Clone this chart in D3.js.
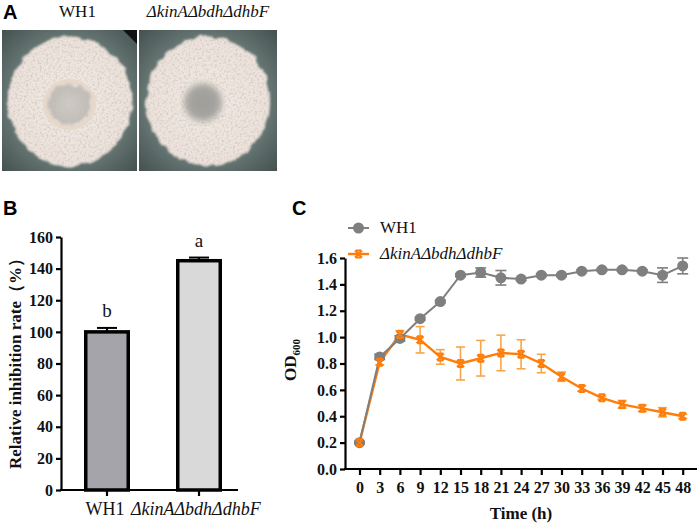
<!DOCTYPE html>
<html>
<head>
<meta charset="utf-8">
<script src="https://cdn.jsdelivr.net/npm/d3@7"></script>
<style>
  html, body { margin: 0; padding: 0; background: #fff; }
  svg { display: block; }
  svg text { font-family: "Liberation Serif", "DejaVu Serif", serif; fill: #111; }
  svg text.tick-lab { font-weight: bold; font-size: 16px; }
  svg text.ax-title { font-weight: bold; font-size: 17px; }
  svg text.panel { font-family: "Liberation Sans", Arial, sans-serif; font-weight: bold; font-size: 20px; fill: #000; }
</style>
</head>
<body>
<svg id="fig" width="699" height="525"></svg>
<script>
// ---- data ----
// panel B
const strains     = ["WH1", "ΔkinAΔbdhΔdhbF"];
const inhibition  = [100, 145];
const inhibErr    = [2.5, 2];
const sigLetters  = ["b", "a"];
const yTicksB     = [0, 20, 40, 60, 80, 100, 120, 140, 160];

// panel C (OD600 growth)
const hours   = [0, 3, 6, 9, 12, 15, 18, 21, 24, 27, 30, 33, 36, 39, 42, 45, 48];
const wh1OD   = [0.20, 0.85, 0.99, 1.14, 1.27, 1.47, 1.49, 1.45, 1.44, 1.47, 1.47, 1.50, 1.51, 1.51, 1.50, 1.47, 1.54];
const wh1Err  = [0.01, 0.02, 0.02, 0.01, 0.01, 0.01, 0.035, 0.055, 0.01, 0.01, 0.01, 0.01, 0.01, 0.01, 0.01, 0.055, 0.06];
const mutOD   = [0.20, 0.81, 1.02, 0.98, 0.85, 0.80, 0.84, 0.88, 0.87, 0.80, 0.70, 0.61, 0.54, 0.49, 0.46, 0.43, 0.40];
const mutErr  = [0.01, 0.02, 0.03, 0.10, 0.055, 0.125, 0.135, 0.135, 0.11, 0.07, 0.035, 0.02, 0.01, 0.03, 0.025, 0.035, 0.015];
const yTicksC = [0, 0.2, 0.4, 0.6, 0.8, 1.0, 1.2, 1.4, 1.6];

const GREY = "#7f7f7f", ORANGE = "#ff7d0a", ORANGE_ERR = "#f9a448";
const SERIF = "'Liberation Serif', 'DejaVu Serif', serif";

const svg = d3.select("#fig");
const defs = svg.append("defs");

// ---------- panel A : colony photos (drawn) ----------
svg.append("text").attr("class", "panel").attr("x", 3).attr("y", 19).text("A");

// filters: rough edge + speckled texture
const f = defs.append("filter").attr("id", "colony")
  .attr("x", "-20%").attr("y", "-20%").attr("width", "140%").attr("height", "140%");
f.append("feTurbulence").attr("type", "fractalNoise").attr("baseFrequency", 0.1)
  .attr("numOctaves", 2).attr("seed", 4).attr("result", "warp");
f.append("feDisplacementMap").attr("in", "SourceGraphic").attr("in2", "warp")
  .attr("scale", 7).attr("xChannelSelector", "R").attr("yChannelSelector", "G").attr("result", "shape");
f.append("feGaussianBlur").attr("in", "shape").attr("stdDeviation", 0.8).attr("result", "shapeB");
f.append("feTurbulence").attr("type", "fractalNoise").attr("baseFrequency", 0.45)
  .attr("numOctaves", 2).attr("seed", 9).attr("result", "grain");
f.append("feColorMatrix").attr("in", "grain").attr("type", "matrix")
  .attr("values", "0 0 0 0 0.60  0 0 0 0 0.55  0 0 0 0 0.52  2.2 0 0 0 -1.0").attr("result", "dots");
f.append("feComposite").attr("in", "dots").attr("in2", "shapeB").attr("operator", "in").attr("result", "dots2");
f.append("feGaussianBlur").attr("in", "dots2").attr("stdDeviation", 0.4).attr("result", "dots3");
const fm = f.append("feMerge");
fm.append("feMergeNode").attr("in", "shapeB");
fm.append("feMergeNode").attr("in", "dots3");

const blur = defs.append("filter").attr("id", "soft");
blur.append("feGaussianBlur").attr("stdDeviation", 3);

function radial(id, stops, cx, cy, r) {
  const g = defs.append("radialGradient").attr("id", id)
    .attr("cx", cx || "50%").attr("cy", cy || "50%").attr("r", r || "70%");
  stops.forEach(s => g.append("stop").attr("offset", s[0]).attr("stop-color", s[1]));
}
radial("plate", [["0%", "#879693"], ["60%", "#6a7a77"], ["100%", "#445250"]]);
radial("cream", [["0%", "#f1e9e3"], ["80%", "#ece1da"], ["100%", "#ddd0c8"]]);
radial("innerW", [["0%", "#cfcbc6"], ["100%", "#b9b4ae"]]);
radial("innerM", [["0%", "#9c9c98"], ["70%", "#a9a7a2"], ["100%", "#d8d2cc"]]);

const photos = [
  { name: "WH1", x: 2, w: 135, italic: false },
  { name: "ΔkinAΔbdhΔdhbF", x: 139, w: 138, italic: true }
];
photos.forEach((p, i) => {
  const y0 = 30, h = 141;
  defs.append("clipPath").attr("id", "clip" + i)
    .append("rect").attr("x", p.x).attr("y", y0).attr("width", p.w).attr("height", h);
  const g = svg.append("g").attr("clip-path", `url(#clip${i})`);
  g.append("rect").attr("x", p.x).attr("y", y0).attr("width", p.w).attr("height", h).attr("fill", "url(#plate)");
  if (i === 0) {
    g.append("path").attr("d", `M${p.x + p.w - 14},${y0} L${p.x + p.w},${y0} L${p.x + p.w},${y0 + 14} Z`).attr("fill", "#111");
  }
  const cx = p.x + p.w / 2, cy = y0 + h / 2 + 1;
  g.append("ellipse").attr("cx", cx).attr("cy", cy).attr("rx", 62).attr("ry", 65)
    .attr("fill", "url(#cream)").attr("filter", "url(#colony)");
  if (i === 0) {
    g.append("ellipse").attr("cx", cx).attr("cy", cy + 3).attr("rx", 24).attr("ry", 23)
      .attr("fill", "none").attr("stroke", "#e6d8ca").attr("stroke-width", 5);
    g.append("ellipse").attr("cx", cx).attr("cy", cy + 3).attr("rx", 21).attr("ry", 20)
      .attr("fill", "url(#innerW)").attr("filter", "url(#colony)");
  } else {
    g.append("circle").attr("cx", cx - 5).attr("cy", cy + 1).attr("r", 19)
      .attr("fill", "url(#innerM)").attr("filter", "url(#soft)");
  }
  svg.append("text").attr("font-family", SERIF)
    .attr("x", p.x + p.w / 2 + (i === 0 ? 8 : 0)).attr("y", 17)
    .attr("text-anchor", "middle").attr("font-size", 17)
    .attr("font-style", p.italic ? "italic" : "normal")
    .text(p.name);
});

// ---------- panel B : bar chart ----------
svg.append("text").attr("class", "panel").attr("x", 3).attr("y", 215).text("B");

const xB = d3.scaleBand().domain(strains).range([61, 245]).paddingInner(0.5).paddingOuter(0.25);
const yB = d3.scaleLinear().domain([0, 160]).range([490, 237]);
const barFill = ["#a4a4aa", "#d9d9d9"];
const gB = svg.append("g");

// bars
gB.selectAll("rect.bar").data(strains).join("rect").attr("class", "bar")
  .attr("x", d => xB(d) + 1.75).attr("width", xB.bandwidth() - 3.5)
  .attr("y", (d, i) => yB(inhibition[i]))
  .attr("height", (d, i) => yB(0) - yB(inhibition[i]))
  .attr("fill", (d, i) => barFill[i]).attr("stroke", "#000").attr("stroke-width", 3.5);

// error bars + letters
strains.forEach((s, i) => {
  const cx = xB(s) + xB.bandwidth() / 2;
  gB.append("line").attr("x1", cx).attr("x2", cx)
    .attr("y1", yB(inhibition[i])).attr("y2", yB(inhibition[i] + inhibErr[i]))
    .attr("stroke", "#000").attr("stroke-width", 2);
  gB.append("line").attr("x1", cx - 10).attr("x2", cx + 10)
    .attr("y1", yB(inhibition[i] + inhibErr[i])).attr("y2", yB(inhibition[i] + inhibErr[i]))
    .attr("stroke", "#000").attr("stroke-width", 2);
  gB.append("text").attr("font-size", 19)
    .attr("x", cx).attr("y", yB(inhibition[i] + inhibErr[i]) - 11)
    .attr("text-anchor", "middle").text(sigLetters[i]);
});

function styleTicks(g) {
  g.attr("font-family", SERIF).attr("font-size", 16).attr("font-weight", "bold");
  g.select(".domain").attr("stroke-width", 2.2);
  g.selectAll(".tick line").attr("stroke-width", 2.2);
  g.selectAll(".tick text").attr("class", "tick-lab").attr("fill", "#111");
}

// y axis
const axB = d3.axisLeft(yB).tickValues(yTicksB).tickSize(5).tickSizeOuter(0).tickPadding(3);
svg.append("g").attr("transform", "translate(61,0)").call(axB).call(styleTicks);
// x axis
svg.append("line").attr("x1", 60).attr("x2", 238).attr("y1", yB(0)).attr("y2", yB(0))
  .attr("stroke", "#000").attr("stroke-width", 2.2);
strains.forEach((s, i) => {
  const cx = xB(s) + xB.bandwidth() / 2;
  svg.append("line").attr("x1", cx).attr("x2", cx).attr("y1", yB(0)).attr("y2", yB(0) + 6)
    .attr("stroke", "#000").attr("stroke-width", 2.2);
  svg.append("text").attr("font-size", 18)
    .attr("font-style", i === 0 ? "normal" : "italic")
    .attr("x", i === 0 ? cx - 2 : cx - 68).attr("y", 515)
    .attr("text-anchor", i === 0 ? "middle" : "start")
    .text(s);
});
svg.append("text").attr("class", "ax-title")
  .attr("transform", `translate(21,${(yB(0) + yB(160)) / 2 - 4}) rotate(-90)`)
  .attr("text-anchor", "middle").text("Relative inhibition rate（%）");

// ---------- panel C : growth curves ----------
svg.append("text").attr("class", "panel").attr("x", 292).attr("y", 215).text("C");

const xC = d3.scaleLinear().domain([0, 48]).range([359.5, 682.7]);
const yC = d3.scaleLinear().domain([0, 1.6]).range([469, 258]);

const axCy = d3.axisLeft(yC).tickValues(yTicksC).tickFormat(d3.format(".1f"))
  .tickSize(5).tickSizeOuter(0).tickPadding(3);
svg.append("g").attr("transform", "translate(345,0)").call(axCy).call(styleTicks);
svg.append("line").attr("x1", 344).attr("x2", 697).attr("y1", 469).attr("y2", 469)
  .attr("stroke", "#000").attr("stroke-width", 2.2);
const axCx = d3.axisBottom(xC).tickValues(hours).tickSize(6).tickSizeOuter(0).tickPadding(7);
svg.append("g").attr("transform", "translate(0,469)").call(axCx).call(styleTicks)
  .call(g => g.select(".domain").remove());

svg.append("text").attr("class", "ax-title").attr("x", 521).attr("y", 519)
  .attr("text-anchor", "middle").text("Time (h)");
svg.append("text").attr("class", "ax-title")
  .attr("transform", "translate(296,360) rotate(-90)").attr("text-anchor", "middle")
  .call(t => {
    t.append("tspan").text("OD");
    t.append("tspan").attr("font-size", 11).attr("dy", 4).text("600");
  });

const line = d3.line().x(d => xC(d[0])).y(d => yC(d[1]));
const wh1Pts = hours.map((h, i) => [h, wh1OD[i], wh1Err[i]]);
const mutPts = hours.map((h, i) => [h, mutOD[i], mutErr[i]]);

function errBars(pts, color, cap, w) {
  const g = svg.append("g").attr("stroke", color).attr("stroke-width", w);
  pts.forEach(p => {
    const x = xC(p[0]);
    g.append("line").attr("x1", x).attr("x2", x).attr("y1", yC(p[1] - p[2])).attr("y2", yC(p[1] + p[2]));
    [p[1] - p[2], p[1] + p[2]].forEach(v =>
      g.append("line").attr("x1", x - cap).attr("x2", x + cap).attr("y1", yC(v)).attr("y2", yC(v)));
  });
}

errBars(mutPts, ORANGE_ERR, 4.5, 1.6);
svg.append("path").datum(mutPts).attr("d", line).attr("fill", "none")
  .attr("stroke", ORANGE).attr("stroke-width", 2.4);
errBars(wh1Pts, GREY, 5.5, 1.6);
svg.append("path").datum(wh1Pts).attr("d", line).attr("fill", "none")
  .attr("stroke", GREY).attr("stroke-width", 2);

const xMark = "M-3.5,-3.5L3.5,3.5M3.5,-3.5L-3.5,3.5M-3,-3.5H3M-3,3.5H3";
svg.append("g").selectAll("circle").data(wh1Pts).join("circle")
  .attr("cx", d => xC(d[0])).attr("cy", d => yC(d[1])).attr("r", 5.5).attr("fill", GREY);
svg.append("g").selectAll("path").data(mutPts).join("path")
  .attr("transform", d => `translate(${xC(d[0])},${yC(d[1])})`)
  .attr("d", xMark).attr("fill", "none").attr("stroke", ORANGE).attr("stroke-width", 2);

// legend
const legend = [
  { label: "WH1", color: GREY, italic: false, y: 228 },
  { label: "ΔkinAΔbdhΔdhbF", color: ORANGE, italic: true, y: 254 }
];
legend.forEach((l, i) => {
  svg.append("line").attr("x1", 348).attr("x2", 369).attr("y1", l.y).attr("y2", l.y)
    .attr("stroke", l.color).attr("stroke-width", i === 0 ? 2 : 2.4);
  if (i === 0) {
    svg.append("circle").attr("cx", 358.5).attr("cy", l.y).attr("r", 5.5).attr("fill", GREY);
  } else {
    svg.append("path").attr("transform", `translate(358.5,${l.y})`).attr("d", xMark)
      .attr("fill", "none").attr("stroke", ORANGE).attr("stroke-width", 2);
  }
  svg.append("text").attr("font-size", 17)
    .attr("font-style", l.italic ? "italic" : "normal")
    .attr("x", 380).attr("y", l.y + 5).text(l.label);
});
</script>
</body>
</html>
